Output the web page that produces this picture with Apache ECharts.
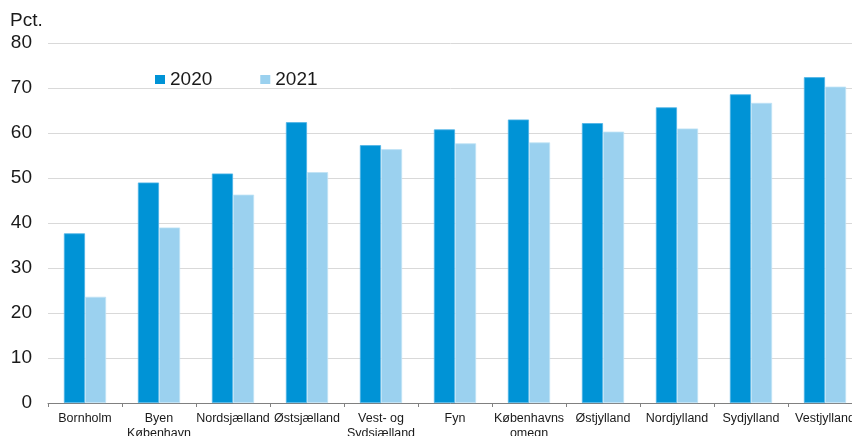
<!DOCTYPE html>
<html><head><meta charset="utf-8">
<script src="https://cdn.jsdelivr.net/npm/echarts@6/dist/echarts.min.js"></script>
<style>html,body{margin:0;padding:0;background:#fff}#c{width:852px;height:436px}</style>
</head><body><div id="c"></div>
<script>
const categories = ['Bornholm','Byen\nKøbenhavn','Nordsjælland','Østsjælland','Vest- og\nSydsjælland','Fyn','Københavns\nomegn','Østjylland','Nordjylland','Sydjylland','Vestjylland'];
const values2020 = [37.7, 49.0, 51.0, 62.4, 57.3, 60.8, 63.0, 62.2, 65.7, 68.6, 72.4];
const values2021 = [23.6, 39.0, 46.3, 51.3, 56.4, 57.7, 57.9, 60.3, 61.0, 66.7, 70.3];
const yTicks = {min: 0, max: 80, interval: 10};

const chart = echarts.init(document.getElementById('c'));
const font = 'Liberation Sans, Arial, sans-serif';
chart.setOption({
  animation: false,
  title: {text: 'Pct.', left: 5, top: 6, textStyle: {fontFamily: font, fontSize: 19, fontWeight: 'normal', color: '#1a1a1a'}},
  legend: {
    left: 150, top: 65, itemWidth: 10, itemHeight: 9, itemGap: 48, icon: 'rect',
    itemStyle: {borderWidth: 0},
    textStyle: {fontFamily: font, fontSize: 19, color: '#1a1a1a'},
    data: ['2020', '2021']
  },
  grid: {left: 48, top: 43, width: 814, height: 360, containLabel: false, outerBoundsMode: 'none'},
  xAxis: {
    type: 'category', data: categories,
    axisLine: {lineStyle: {color: '#808080'}},
    axisTick: {show: true, lineStyle: {color: '#808080'}, length: 4},
    axisLabel: {interval: 0, fontFamily: font, fontSize: 12.5, color: '#1a1a1a', lineHeight: 15, margin: 8}
  },
  yAxis: {
    type: 'value', min: yTicks.min, max: yTicks.max, interval: yTicks.interval,
    axisLine: {show: false}, axisTick: {show: false},
    splitLine: {lineStyle: {color: '#d9d9d9', width: 1}},
    axisLabel: {fontFamily: font, fontSize: 19, color: '#1a1a1a', margin: 16}
  },
  series: [
    {name: '2020', type: 'bar', data: values2020, barGap: '0%', barCategoryGap: '43%',
     itemStyle: {color: '#0093d6', borderColor: '#4db2e6', borderWidth: 0.8}},
    {name: '2021', type: 'bar', data: values2021,
     itemStyle: {color: '#9bd1ef', borderColor: '#bfe2f5', borderWidth: 0.8}}
  ]
});
</script></body></html>
